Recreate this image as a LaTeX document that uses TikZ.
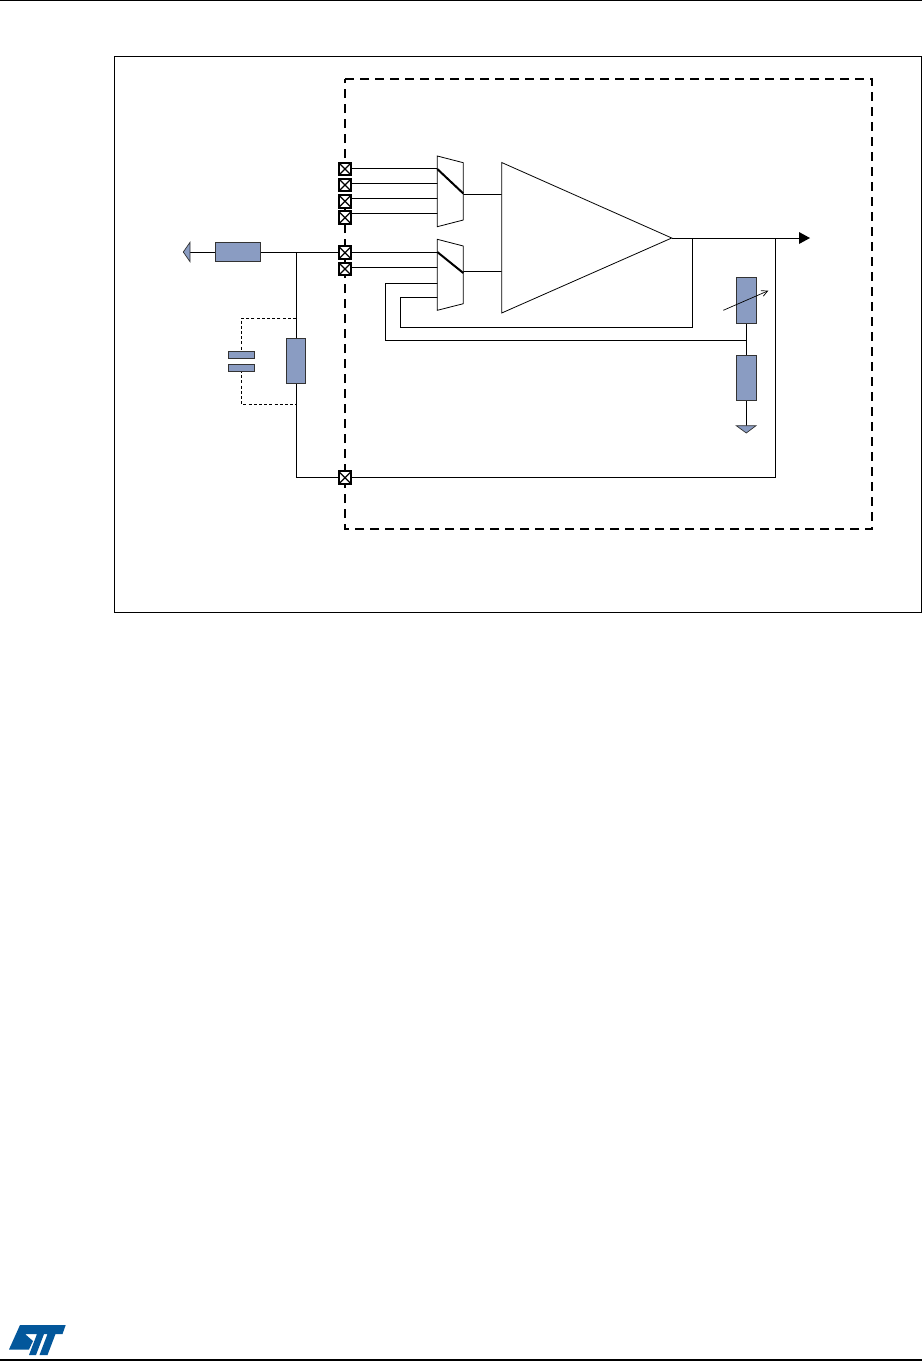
\documentclass[tikz,border=0pt]{standalone}
\usetikzlibrary{arrows.meta}
\definecolor{rblue}{HTML}{8A9CC2}
\definecolor{stblue}{HTML}{03579B}
\tikzset{
  x=1pt,y=-1pt,
  wire/.style={line width=0.9pt,black},
  res/.style={draw=black!80,fill=rblue,line width=0.9pt},
  pad/.style={draw=black,fill=white,line width=2pt,minimum size=12.5pt,inner sep=0pt,outer sep=0pt,cross out box},
  cross out box/.style={path picture={\draw[line width=1.2pt] (path picture bounding box.north west)--(path picture bounding box.south east) (path picture bounding box.north east)--(path picture bounding box.south west);}},
  mux/.style={draw=black,fill=white,line width=0.8pt},
  sw/.style={line width=2pt,black},
  sdash/.style={line width=0.8pt,dash pattern=on 3pt off 2.2pt},
}
\begin{document}
\begin{tikzpicture}
\useasboundingbox (0,0) rectangle (922,1361);
\fill[white] (0,0) rectangle (922,1361);
% page rules
\draw[line width=1pt] (0,0.5) -- (922,0.5);
\draw[line width=1.2pt] (0,1360) -- (922,1360);
% frame
\draw[line width=0.9pt] (114.5,56.5) rectangle (921.5,612.5);
% dashed box
\draw[line width=2.7pt,dash pattern=on 9pt off 6pt] (345,79) -- (872,79) -- (872,529) -- (345,529) -- cycle;
% coordinates
\coordinate (tip) at (671.7,238);
\coordinate (fb) at (692.3,238);
\coordinate (rt) at (775.5,238);
\coordinate (outend) at (799,238);
\coordinate (j) at (296,252.7);
\coordinate (jb) at (296,477.7);
\coordinate (mid) at (746.3,340.3);
\coordinate (d1) at (296,318);
\coordinate (d2) at (296,404.3);
% wires behind
\draw[wire] (183,252.7) -- (345,252.7);
\draw[wire] (j) -- (jb) -- (345,477.7);
\draw[wire] (345,477.7) -- (775.5,477.7) -- (rt);
\draw[wire] (tip) -- (outend);
\draw[wire] (fb) -- (692.3,327) -- (400.7,327) -- (400.7,297.3) -- (438,297.3);
\draw[wire] (mid) -- (385.7,340.3) -- (385.7,283.3) -- (438,283.3);
\draw[wire] (746.3,323) -- (746.3,426);
\foreach \y in {168.3,183.3,198.3,213.3,252.7,267.3} \draw[wire] (345,\y) -- (438,\y);
\draw[wire] (463,194) -- (501.7,194);
\draw[wire] (463,271.3) -- (501.7,271.3);
% dashed capacitor branch
\draw[sdash] (d1) -- (241.3,318) -- (241.3,353);
\draw[sdash] (241.3,370) -- (241.3,404.3) -- (d2);
% pads
\node[pad] (p1) at (345,169) {};
\node[pad] (p2) at (345,185) {};
\node[pad] (p3) at (345,201.3) {};
\node[pad] (p4) at (345,217.7) {};
\node[pad] (p5) at (345,252.7) {};
\node[pad] (p6) at (345,269) {};
\node[pad] (p7) at (345,477.7) {};
% muxes
\draw[mux] (437.3,156) -- (463.3,162.7) -- (463.3,220) -- (437.3,226.7) -- cycle;
\draw[sw] (437.3,169) -- (463.3,193.5);
\draw[mux] (437.3,239.3) -- (463.3,246) -- (463.3,303.7) -- (437.3,310.3) -- cycle;
\draw[sw] (437.3,252) -- (463.3,273);
% amp
\draw[mux] (501.7,162.5) -- (tip) -- (501.7,313) -- cycle;
% output arrow head
\fill (799,232) -- (810,238) -- (799,244) -- cycle;
% resistors
\node[res,minimum width=45.4pt,minimum height=19.4pt,inner sep=0pt] (r1) at (238,252) {};
\node[res,minimum width=19.4pt,minimum height=45pt,inner sep=0pt] (r2) at (296,361.2) {};
\node[res,minimum width=19.7pt,minimum height=45.6pt,inner sep=0pt] (r3) at (746.2,300.5) {};
\node[res,minimum width=19.7pt,minimum height=45.3pt,inner sep=0pt] (r4) at (746.2,377.7) {};
% capacitor
\node[res,minimum width=26pt,minimum height=6.7pt,inner sep=0pt] (c1) at (241.3,354.7) {};
\node[res,minimum width=26pt,minimum height=6.7pt,inner sep=0pt] (c2) at (241.3,367.7) {};
% variable arrow
\draw[line width=0.7pt,-{Straight Barb[length=6pt,width=6pt]}] (723.3,310.3) -- (768.3,290.7);
% ground and port
\draw[res,line width=0.7pt] (736.3,425.7) -- (756,425.7) -- (746.3,433) -- cycle;
\draw[res,line width=0.7pt] (183.3,252) -- (190,242.3) -- (190,261.7) -- cycle;
% logo
\fill[stblue] (20,1325) -- (65.7,1325) -- (62.5,1334) -- (55.5,1334) -- (47.5,1355) -- (39.5,1355) -- (47.5,1334) -- (44,1334) -- (36,1355) -- (29,1355) -- (37,1334) -- (25,1334) -- (33,1341) -- (29,1349.5) -- (9,1349.5) -- cycle;
\end{tikzpicture}
\end{document}
